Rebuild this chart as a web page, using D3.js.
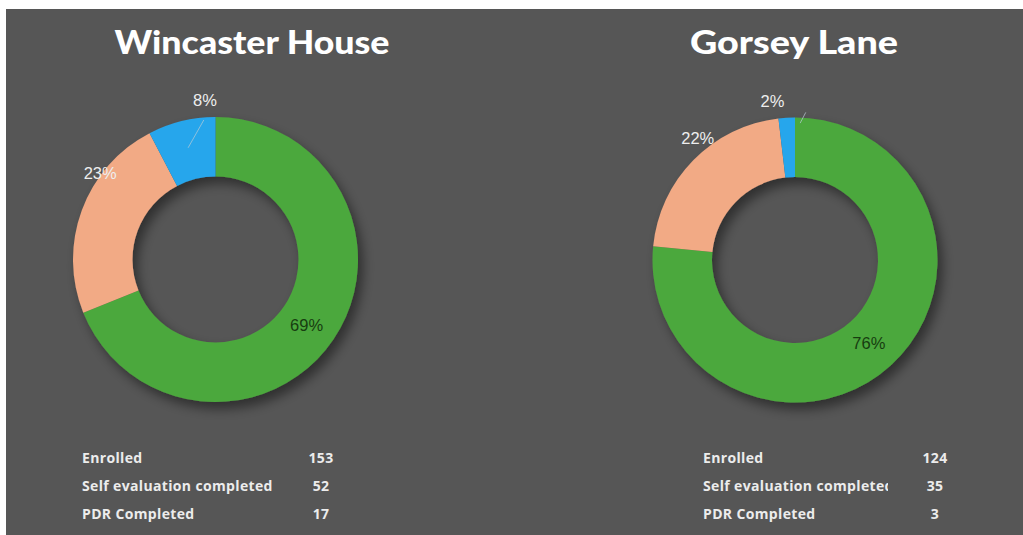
<!DOCTYPE html>
<html>
<head>
<meta charset="utf-8">
<script src="https://cdn.jsdelivr.net/npm/d3@7"></script>
<style>
  html, body { margin: 0; padding: 0; background: #fff; }
  svg { display: block; }
</style>
</head>
<body>
<script>
// data
var sites = ['Wincaster House', 'Gorsey Lane'];
var categories = ['Enrolled', 'Self evaluation completed', 'PDR Completed'];
var wincasterValues = [153, 52, 17];
var gorseyValues = [124, 35, 3];
var sliceColors = ['#4ca83c', '#f2aa85', '#28a6ec'];

// label placement hints per slice: radius, angle nudge (deg)
var wincasterLabelHints = [{r: 112, nudge: 1.5}, {r: 144, nudge: 16.5}, {r: 160, nudge: 10}];
var gorseyLabelHints = [{r: 111, nudge: 0.5}, {r: 156, nudge: 7}, {r: 161, nudge: -4.7}];

var width = 1023, height = 535;
var outerR = 142.5, innerR = 83;

var svg = d3.select('body').append('svg')
  .attr('width', width)
  .attr('height', height);

var defs = svg.append('defs');
var shadow = defs.append('filter')
  .attr('id', 'shadow')
  .attr('x', '-20%').attr('y', '-20%')
  .attr('width', '150%').attr('height', '150%');
shadow.append('feDropShadow')
  .attr('dx', 5).attr('dy', 7)
  .attr('stdDeviation', 6)
  .attr('flood-color', '#000')
  .attr('flood-opacity', 0.45);

// background panel (thin white strip on top/left like the screenshot)
svg.append('rect')
  .attr('x', 6).attr('y', 9)
  .attr('width', width - 6).attr('height', height - 9)
  .style('fill', '#565656');

var pie = d3.pie().sort(null).value(function(d) { return d; });
var arc = d3.arc().innerRadius(innerR).outerRadius(outerR);

// percentages rounded so they add up to 100 (largest remainder)
var roundedPercents = function(values) {
  var total = d3.sum(values);
  var raw = values.map(function(v) { return v / total * 100; });
  var out = raw.map(Math.floor);
  var left = 100 - d3.sum(out);
  var order = d3.range(raw.length).sort(function(a, b) {
    return (raw[b] - out[b]) - (raw[a] - out[a]);
  });
  for(var i = 0; i < left; i++) { out[order[i]]++; }
  return out;
};

var panels = [
  {name: sites[0], values: wincasterValues, hints: wincasterLabelHints, cx: 215.5, cy: 259.5, titleX: 252, titleW: 275,
   labelX: 82, valueX: 321, clipW: 999, leader: {from: [115, 0], to: [140, 9]}},
  {name: sites[1], values: gorseyValues, hints: gorseyLabelHints, cx: 795, cy: 260, titleX: 794, titleW: 208,
   labelX: 703, valueX: 935, clipW: 187, leader: {from: [137, 5.5], to: [148, 7.5]}}
];

var toRad = Math.PI / 180;
var polar = function(r, a) {
  return [r * Math.sin(a), -r * Math.cos(a)];
};

panels.forEach(function(p, pi) {
  var g = svg.append('g');

  g.append('text')
    .attr('x', p.titleX)
    .attr('y', 54)
    .attr('text-anchor', 'middle')
    .attr('textLength', p.titleW)
    .attr('lengthAdjust', 'spacingAndGlyphs')
    .style('font-family', 'Lato, "Open Sans", sans-serif')
    .style('font-weight', 900)
    .style('font-size', '33px')
    .style('fill', '#ffffff')
    .text(p.name);

  var donut = g.append('g')
    .attr('transform', 'translate(' + p.cx + ',' + p.cy + ')');

  var arcs = pie(p.values);
  var pcts = roundedPercents(p.values);

  donut.append('g')
    .attr('filter', 'url(#shadow)')
    .selectAll('path')
    .data(arcs)
    .enter().append('path')
    .attr('d', arc)
    .style('fill', function(d, i) { return sliceColors[i]; });

  // leader line for the smallest slice
  var small = arcs[2];
  var mid = (small.startAngle + small.endAngle) / 2;
  var a1 = polar(p.leader.from[0], mid + p.leader.from[1] * toRad);
  var a2 = polar(p.leader.to[0], mid + p.leader.to[1] * toRad);
  donut.append('line')
    .attr('x1', a1[0]).attr('y1', a1[1])
    .attr('x2', a2[0]).attr('y2', a2[1])
    .style('stroke', '#b9cbd6')
    .style('stroke-width', 1)
    .style('opacity', 0.7);

  donut.selectAll('text.pct')
    .data(arcs)
    .enter().append('text')
    .attr('class', 'pct')
    .attr('transform', function(d, i) {
      var h = p.hints[i];
      var a = (d.startAngle + d.endAngle) / 2 + h.nudge * toRad;
      var pt = polar(h.r, a);
      return 'translate(' + pt[0] + ',' + pt[1] + ')';
    })
    .attr('text-anchor', 'middle')
    .attr('dominant-baseline', 'central')
    .style('font-family', '"Liberation Sans", Arial, sans-serif')
    .style('font-size', '16.5px')
    .style('fill', function(d, i) { return i === 0 ? '#173d10' : '#eeeeee'; })
    .text(function(d, i) { return pcts[i] + '%'; });

  // stats table
  var clipId = 'clip' + pi;
  defs.append('clipPath').attr('id', clipId)
    .append('rect')
    .attr('x', p.labelX - 2).attr('y', 440)
    .attr('width', p.clipW).attr('height', 90);

  var rows = g.append('g');
  rows.selectAll('text.cat')
    .data(categories)
    .enter().append('text')
    .attr('class', 'cat')
    .attr('x', p.labelX)
    .attr('y', function(d, i) { return 463 + i * 28; })
    .attr('clip-path', 'url(#' + clipId + ')')
    .style('font-family', '"Open Sans", sans-serif')
    .style('font-weight', 700)
    .style('font-size', '14px')
    .style('letter-spacing', '0.35px')
    .style('fill', '#ececec')
    .text(function(d) { return d; });

  rows.selectAll('text.val')
    .data(p.values)
    .enter().append('text')
    .attr('class', 'val')
    .attr('x', p.valueX)
    .attr('y', function(d, i) { return 463 + i * 28; })
    .attr('text-anchor', 'middle')
    .style('font-family', '"Open Sans", sans-serif')
    .style('font-weight', 700)
    .style('font-size', '14px')
    .style('letter-spacing', '0.35px')
    .style('fill', '#ececec')
    .text(function(d) { return d; });
});
</script>
</body>
</html>
